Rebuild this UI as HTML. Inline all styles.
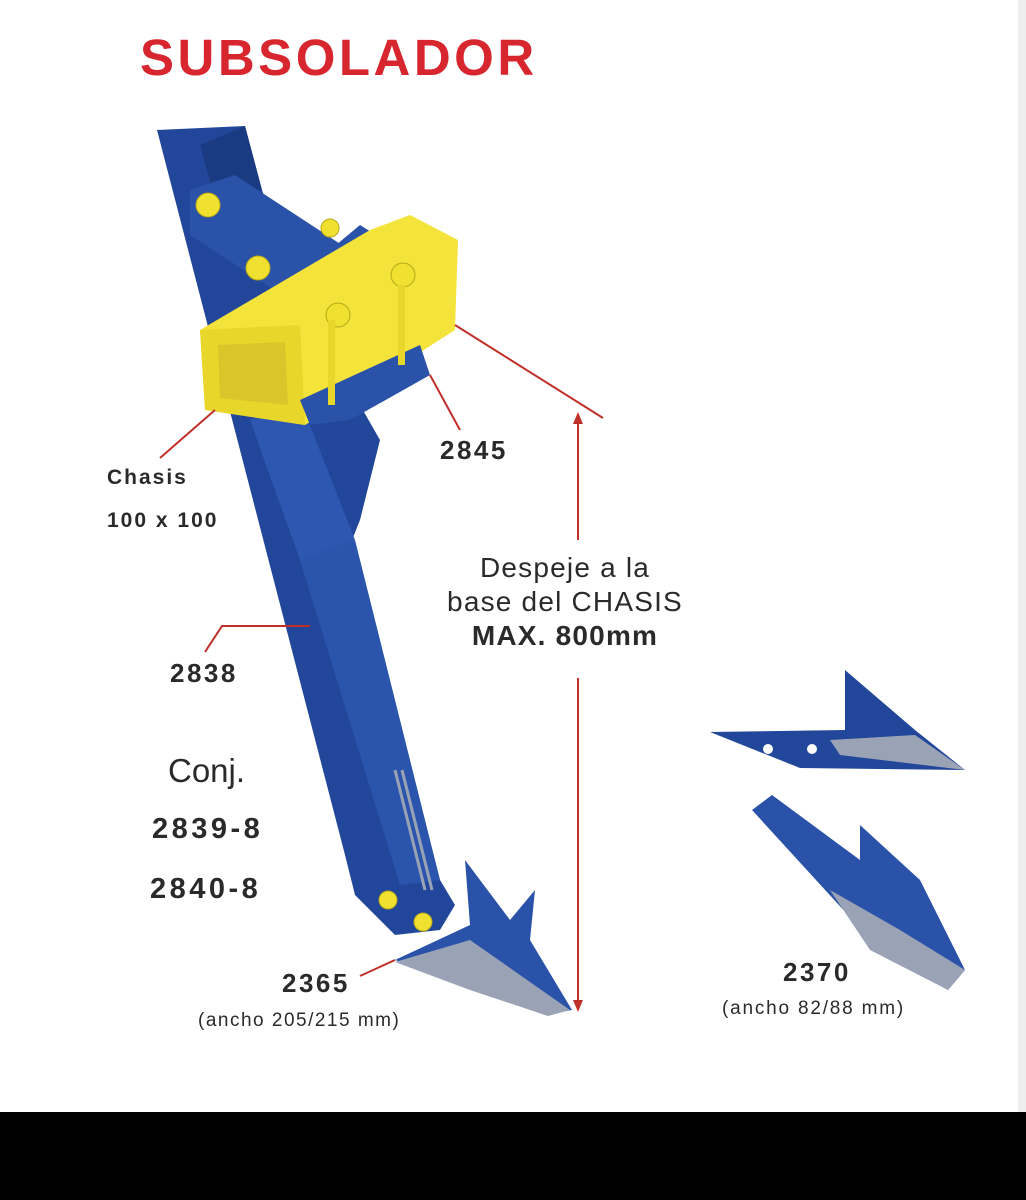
<!DOCTYPE html>
<html><head><meta charset="utf-8"><style>
body{margin:0;width:1026px;height:1200px;background:#fff;position:relative;overflow:hidden;font-family:"Liberation Sans",sans-serif}
.t{position:absolute;color:#2a2a2a;white-space:nowrap}
.b{font-weight:bold}
</style></head><body>
<svg width="1026" height="1200" style="position:absolute;left:0;top:0">
<rect x="0" y="1112" width="1026" height="88" fill="#000"/>
<rect x="1018" y="0" width="8" height="1112" fill="#eee"/>
<polygon points="157,130 245,126 262,190 300,300 380,440 360,520 352,540 440,880 455,905 440,930 395,935 355,895 345,855" fill="#22479a"/>
<polygon points="245,126 262,190 215,200 200,145" fill="#1a3a82"/>
<polygon points="300,560 355,540 440,880 400,885" fill="#2b55ad"/>
<polygon points="250,420 300,400 355,540 300,560" fill="#2d57b0"/>
<line x1="395" y1="770" x2="425" y2="890" stroke="#9aa3b5" stroke-width="3"/>
<line x1="402" y1="770" x2="432" y2="890" stroke="#9aa3b5" stroke-width="3"/>
<polygon points="190,190 235,175 380,270 370,300 320,320 190,235" fill="#2a52a8"/>
<polygon points="330,250 360,225 440,275 425,305 380,300" fill="#2a52a8"/>
<polygon points="200,330 370,230 410,215 458,240 455,330 330,410 305,425 205,410" fill="#f3e33a"/>
<polygon points="200,330 300,325 305,425 205,410" fill="#e8d62a"/>
<polygon points="218,345 285,342 288,405 220,398" fill="#d9c62a"/>
<polygon points="300,400 420,345 430,375 350,420 310,425" fill="#2a52a8"/>
<g fill="#f0e030" stroke="#b9a818"><circle cx="208" cy="205" r="12"/><circle cx="258" cy="268" r="12"/><circle cx="338" cy="315" r="12"/><circle cx="403" cy="275" r="12"/><circle cx="330" cy="228" r="9"/><circle cx="388" cy="900" r="9"/><circle cx="423" cy="922" r="9"/></g>
<rect x="328" y="320" width="7" height="85" fill="#e8d62a"/><rect x="398" y="285" width="7" height="80" fill="#e8d62a"/>
<polygon points="395,960 470,925 465,860 510,920 535,890 530,940 572,1010 545,1015 470,985" fill="#2a52a8"/>
<polygon points="395,962 470,940 570,1010 548,1016 470,990" fill="#9aa3b5"/>
<polygon points="710,732 845,730 845,670 915,730 965,770 800,768" fill="#22479a"/>
<polygon points="830,740 915,735 965,770 840,755" fill="#9aa3b5"/>
<circle cx="768" cy="749" r="5" fill="#fff"/><circle cx="812" cy="749" r="5" fill="#fff"/>
<polygon points="752,810 772,795 860,860 860,825 920,880 965,970 948,990 880,950" fill="#2a52a8"/>
<polygon points="830,890 900,930 965,970 948,990 870,950" fill="#9aa3b5"/>
<g stroke="#c0302a" stroke-width="2" fill="none">
<line x1="455" y1="325" x2="603" y2="418"/>
<line x1="430" y1="375" x2="460" y2="430"/>
<line x1="215" y1="410" x2="160" y2="458"/>
<polyline points="310,626 222,626 205,652"/>
<line x1="395" y1="960" x2="360" y2="976"/>
<line x1="578" y1="420" x2="578" y2="540"/>
<line x1="578" y1="678" x2="578" y2="1005"/>
</g>
<polygon points="578,412 573,424 583,424" fill="#c0302a"/>
<polygon points="578,1012 573,1000 583,1000" fill="#c0302a"/>
</svg>
<div class="t b" style="left:140px;top:28px;font-size:51px;letter-spacing:3.5px;color:#d7262e">SUBSOLADOR</div>
<div class="t b" style="left:107px;top:466px;font-size:21px;letter-spacing:2px">Chasis</div>
<div class="t b" style="left:107px;top:509px;font-size:21px;letter-spacing:2px">100 x 100</div>
<div class="t b" style="left:440px;top:435px;font-size:26px;letter-spacing:2.5px">2845</div>
<div class="t" style="left:415px;top:551px;width:300px;text-align:center;font-size:28px;line-height:34px;letter-spacing:1.2px">Despeje a la<br>base del CHASIS<br><b>MAX. 800mm</b></div>
<div class="t b" style="left:170px;top:658px;font-size:26px;letter-spacing:2.5px">2838</div>
<div class="t" style="left:168px;top:752px;font-size:33px">Conj.</div>
<div class="t b" style="left:152px;top:813px;font-size:29px;letter-spacing:3.5px">2839-8</div>
<div class="t b" style="left:150px;top:873px;font-size:29px;letter-spacing:3.5px">2840-8</div>
<div class="t b" style="left:282px;top:968px;font-size:26px;letter-spacing:2.5px">2365</div>
<div class="t" style="left:198px;top:1010px;font-size:19px;letter-spacing:1.5px">(ancho 205/215 mm)</div>
<div class="t b" style="left:783px;top:957px;font-size:26px;letter-spacing:2.5px">2370</div>
<div class="t" style="left:722px;top:998px;font-size:19px;letter-spacing:1.8px">(ancho 82/88 mm)</div>
</body></html>
